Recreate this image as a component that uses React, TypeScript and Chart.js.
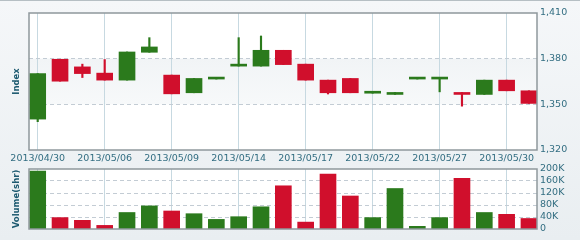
import React, { useEffect, useRef } from 'react';
import { Chart, registerables } from 'chart.js';

Chart.register(...registerables);

const dates = [
  '2013/04/30', '2013/05/02', '2013/05/03', '2013/05/06', '2013/05/07', '2013/05/08',
  '2013/05/09', '2013/05/10', '2013/05/13', '2013/05/14', '2013/05/15', '2013/05/16',
  '2013/05/17', '2013/05/20', '2013/05/21', '2013/05/22', '2013/05/23', '2013/05/24',
  '2013/05/27', '2013/05/28', '2013/05/29', '2013/05/30', '2013/05/31',
];
const openV = [1340.3, 1379.6, 1374.6, 1370.5, 1365.9, 1384.2, 1369.2, 1357.6, 1366.6, 1375.1, 1375.1, 1385.5, 1376.4, 1365.9, 1367.0, 1357.3, 1356.5, 1366.6, 1366.6, 1357.8, 1356.5, 1365.9, 1358.9];
const closeV = [1370.2, 1365.2, 1370.2, 1365.9, 1384.4, 1387.7, 1356.9, 1367.0, 1367.3, 1376.4, 1385.5, 1376.1, 1365.9, 1357.6, 1357.6, 1358.0, 1357.8, 1367.3, 1367.3, 1356.5, 1365.9, 1358.9, 1350.6];
const highV = [1370.2, 1379.6, 1376.4, 1379.4, 1384.4, 1393.8, 1369.2, 1367.0, 1367.3, 1393.8, 1394.9, 1385.5, 1376.4, 1365.9, 1367.0, 1358.0, 1357.8, 1367.3, 1367.3, 1357.8, 1365.9, 1365.9, 1358.9];
const lowV = [1338.6, 1365.2, 1367.6, 1365.9, 1365.9, 1384.2, 1356.9, 1357.6, 1366.6, 1375.1, 1375.1, 1376.1, 1365.9, 1356.8, 1357.6, 1357.3, 1356.5, 1366.6, 1358.2, 1348.8, 1356.5, 1358.9, 1350.6];
const volumeV = [193000, 38000, 29000, 12000, 55000, 77000, 60000, 51000, 32000, 41000, 74000, 144000, 23000, 183000, 110000, 38000, 135000, 9000, 38000, 169000, 55000, 49000, 35000];
const labelIndexes = [0, 3, 6, 9, 12, 15, 18, 21];
const priceTicks = [1320, 1350, 1380, 1410];
const volumeTicks = [0, 40000, 80000, 120000, 160000, 200000];

const GREEN = '#2b7a1c';
const RED = '#d00f2c';
const TICK_COLOR = '#336e82';
const TITLE_COLOR = '#1d5a70';
const VGRID = '#c7d9e1';
const HGRID = '#c3ccd4';
const FONT = "'DejaVu Sans', Verdana, sans-serif";

const colors = openV.map((o, i) => (closeV[i] >= o ? GREEN : RED));

const X_MIN = -0.39;
const X_MAX = 22.36;

function framePlugin(band?: [number, number]) {
  return {
    id: 'frame',
    beforeDraw(chart: any) {
      const { ctx, chartArea: a } = chart;
      ctx.save();
      ctx.fillStyle = '#ffffff';
      ctx.fillRect(a.left, a.top, a.right - a.left, a.bottom - a.top);
      if (band) {
        const y1 = chart.scales.y.getPixelForValue(band[1]);
        const y2 = chart.scales.y.getPixelForValue(band[0]);
        const g = ctx.createLinearGradient(0, y1, 0, y2);
        g.addColorStop(0, '#f1f4f6');
        g.addColorStop(1, '#f7f9fa');
        ctx.fillStyle = g;
        ctx.fillRect(a.left, y1, a.right - a.left, y2 - y1);
      }
      ctx.restore();
    },
    afterDraw(chart: any) {
      const { ctx, chartArea: a } = chart;
      ctx.save();
      ctx.strokeStyle = '#8f989c';
      ctx.lineWidth = 1.5;
      ctx.strokeRect(a.left, a.top, a.right - a.left, a.bottom - a.top);
      ctx.restore();
    },
  };
}

function xScale(showLabels: boolean) {
  return {
    type: 'linear',
    offset: false,
    min: X_MIN,
    max: X_MAX,
    afterBuildTicks: (s: any) => {
      s.ticks = labelIndexes.map((v) => ({ value: v }));
    },
    afterFit: (s: any) => {
      s.height = showLabels ? 18 : 0;
    },
    ticks: {
      display: showLabels,
      autoSkip: false,
      maxRotation: 0,
      padding: 3,
      color: TICK_COLOR,
      font: { family: FONT, size: 9.5 },
      callback: (v: any) => dates[v] ?? '',
    },
    grid: { color: VGRID, lineWidth: 1, drawTicks: false, offset: false },
    border: { display: false },
  };
}

function leftTitleScale(text: string, min: number, max: number) {
  return {
    type: 'linear',
    position: 'left',
    min,
    max,
    afterFit: (s: any) => {
      s.width = 29;
    },
    ticks: { display: false },
    grid: { display: false, drawTicks: false },
    border: { display: false },
    title: {
      display: true,
      text,
      color: TITLE_COLOR,
      font: { family: FONT, size: 8.5, weight: 'bold' },
      padding: { top: 12, bottom: 0 },
    },
  };
}

function rightScale(min: number, max: number, ticks: number[], fmt: (v: number) => string) {
  return {
    type: 'linear',
    position: 'right',
    min,
    max,
    afterBuildTicks: (s: any) => {
      s.ticks = ticks.map((v) => ({ value: v }));
    },
    afterFit: (s: any) => {
      s.width = 43;
    },
    ticks: {
      autoSkip: false,
      padding: 3,
      color: TICK_COLOR,
      font: { family: FONT, size: 9.5 },
      callback: (v: any) => fmt(Number(v)),
    },
    grid: {
      drawTicks: false,
      color: (c: any) =>
        c.tick && (c.tick.value === min || c.tick.value === max) ? 'rgba(0,0,0,0)' : HGRID,
    },
    border: { display: false, dash: [4, 3] },
  };
}

export default function App() {
  const priceRef = useRef<HTMLCanvasElement | null>(null);
  const volRef = useRef<HTMLCanvasElement | null>(null);

  useEffect(() => {
    const priceChart = new Chart(priceRef.current as HTMLCanvasElement, {
      type: 'bar',
      data: {
        datasets: [
          {
            label: 'Body',
            data: dates.map((_, i) => ({ x: i, y: [openV[i], closeV[i]] })) as any,
            backgroundColor: colors,
            barThickness: 16,
            grouped: false,
            minBarLength: 2,
            order: 0,
          },
          {
            label: 'Wick',
            data: dates.map((_, i) => ({ x: i, y: [lowV[i], highV[i]] })) as any,
            backgroundColor: colors,
            barThickness: 1.5,
            grouped: false,
            order: 1,
          },
        ],
      },
      options: {
        animation: false,
        responsive: false,
        maintainAspectRatio: false,
        layout: { padding: { top: 13, left: 0, right: 0, bottom: 0 } },
        plugins: { legend: { display: false }, tooltip: { enabled: false } },
        scales: {
          x: xScale(true) as any,
          yl: leftTitleScale('Index', 1320, 1410) as any,
          y: rightScale(1320, 1410, priceTicks, (v) => v.toLocaleString('en-US')) as any,
        },
      },
      plugins: [framePlugin([1350, 1380])],
    });

    const volChart = new Chart(volRef.current as HTMLCanvasElement, {
      type: 'bar',
      data: {
        datasets: [
          {
            label: 'Volume',
            data: dates.map((_, i) => ({ x: i, y: volumeV[i] })) as any,
            backgroundColor: colors,
            barThickness: 16,
          },
        ],
      },
      options: {
        animation: false,
        responsive: false,
        maintainAspectRatio: false,
        layout: { padding: { top: 9, left: 0, right: 0, bottom: 11 } },
        plugins: { legend: { display: false }, tooltip: { enabled: false } },
        scales: {
          x: xScale(false) as any,
          yl: leftTitleScale('Volume(shr)', 0, 200000) as any,
          y: rightScale(0, 200000, volumeTicks, (v) => (v === 0 ? '0' : v / 1000 + 'K')) as any,
        },
      },
      plugins: [framePlugin()],
    });

    return () => {
      priceChart.destroy();
      volChart.destroy();
    };
  }, []);

  return (
    <div
      style={{
        position: 'fixed',
        left: 0,
        top: 0,
        width: 580,
        height: 240,
        overflow: 'hidden',
        boxSizing: 'border-box',
        borderTop: '1px solid #b6bfc4',
        background: 'linear-gradient(180deg, #f5f7f9 0%, #e9eef1 100%)',
      }}
    >
      <canvas
        ref={priceRef}
        width={580}
        height={168}
        style={{ position: 'absolute', left: 0, top: -1, width: 580, height: 168 }}
      />
      <canvas
        ref={volRef}
        width={580}
        height={80}
        style={{ position: 'absolute', left: 0, top: 159, width: 580, height: 80 }}
      />
    </div>
  );
}
